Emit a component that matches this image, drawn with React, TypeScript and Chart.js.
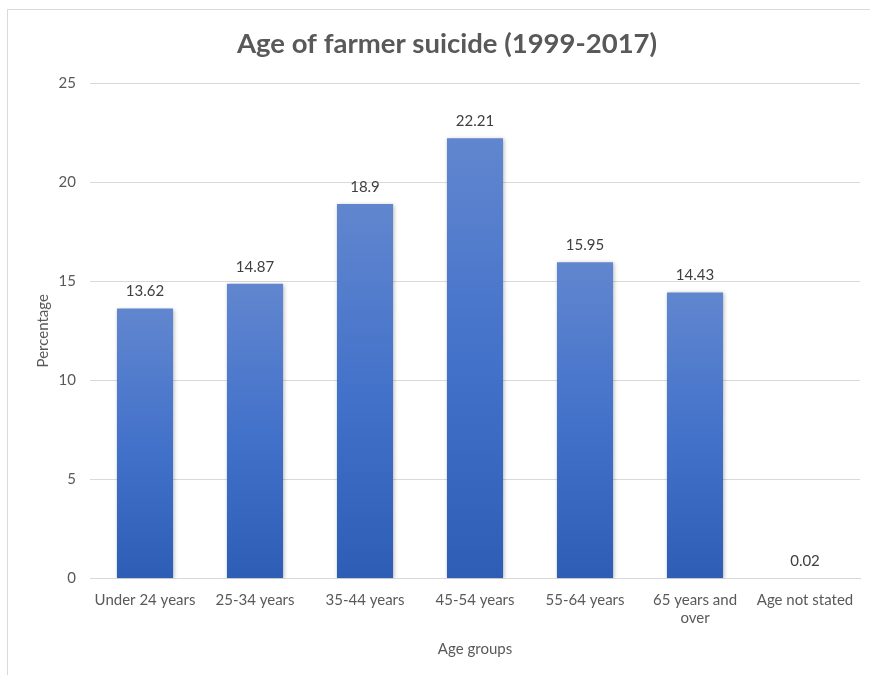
import React, { useEffect, useRef } from "react";
import { Chart, registerables } from "chart.js";

Chart.register(...registerables);

const categories: (string | string[])[] = [
  "Under 24 years",
  "25-34 years",
  "35-44 years",
  "45-54 years",
  "55-64 years",
  ["65 years and", "over"],
  "Age not stated",
];
const percentages: number[] = [13.62, 14.87, 18.9, 22.21, 15.95, 14.43, 0.02];
const valueLabels: string[] = ["13.62", "14.87", "18.9", "22.21", "15.95", "14.43", "0.02"];

const FONT = "Lato, 'Liberation Sans', sans-serif";

const frame = {
  id: "frame",
  beforeDraw(chart: any) {
    const ctx = chart.ctx;
    ctx.save();
    ctx.fillStyle = "#ffffff";
    ctx.fillRect(0, 0, chart.width, chart.height);
    ctx.strokeStyle = "#d9d9d9";
    ctx.lineWidth = 1;
    ctx.beginPath();
    ctx.moveTo(7.5, chart.height);
    ctx.lineTo(7.5, 9.5);
    ctx.lineTo(chart.width, 9.5);
    ctx.stroke();
    ctx.restore();
  },
};

const shadow = {
  id: "barShadow",
  beforeDatasetsDraw(chart: any) {
    const ctx = chart.ctx;
    ctx.save();
    ctx.shadowColor = "rgba(0,0,0,0.28)";
    ctx.shadowBlur = 4;
    ctx.shadowOffsetX = 1;
    ctx.shadowOffsetY = 1;
  },
  afterDatasetsDraw(chart: any) {
    chart.ctx.restore();
  },
};

const dataLabels = {
  id: "dataLabels",
  afterDatasetsDraw(chart: any) {
    const ctx = chart.ctx;
    const meta = chart.getDatasetMeta(0);
    ctx.save();
    ctx.fillStyle = "#404040";
    ctx.font = `15px ${FONT}`;
    ctx.textAlign = "center";
    ctx.textBaseline = "middle";
    meta.data.forEach((bar: any, i: number) => {
      ctx.fillText(valueLabels[i], bar.x, bar.y - 17);
    });
    ctx.restore();
  },
};

export default function App() {
  const ref = useRef<HTMLCanvasElement>(null);
  useEffect(() => {
    document.body.style.margin = "0";
    const canvas = ref.current!;
    const chart = new Chart(canvas, {
      type: "bar",
      data: {
        labels: categories,
        datasets: [
          {
            data: percentages,
            backgroundColor: (c: any) => {
              const ch = c.chart;
              const ys = ch.scales?.y;
              if (!ys || c.dataIndex === undefined) return "#4472C4";
              const v = percentages[c.dataIndex];
              const top = ys.getPixelForValue(v);
              const bottom = ys.getPixelForValue(0);
              if (!isFinite(top) || !isFinite(bottom) || bottom - top < 1) return "#4472C4";
              const g = ch.ctx.createLinearGradient(0, top, 0, bottom);
              g.addColorStop(0, "#6186CF");
              g.addColorStop(0.5, "#4372CA");
              g.addColorStop(1, "#2E5DB6");
              return g;
            },
            borderWidth: 0,
            categoryPercentage: 1,
            barPercentage: 0.51,
          },
        ],
      },
      options: {
        responsive: false,
        animation: false,
        events: [],
        layout: { padding: { left: 34, right: 10, top: 0, bottom: 17 } },
        plugins: {
          legend: { display: false },
          tooltip: { enabled: false },
          title: {
            display: true,
            text: "Age of farmer suicide (1999-2017)",
            color: "#595959",
            font: { family: FONT, size: 27.5, weight: "bold" },
            padding: { top: 28, bottom: 22 },
          },
        },
        scales: {
          x: {
            grid: { display: false, drawTicks: false },
            border: { color: "#d9d9d9" },
            ticks: {
              color: "#595959",
              font: { family: FONT, size: 15, lineHeight: 1.25 },
              padding: 12,
              maxRotation: 0,
              autoSkip: false,
            },
            title: {
              display: true,
              text: "Age groups",
              color: "#595959",
              font: { family: FONT, size: 15 },
              padding: { top: 0, bottom: 0 },
            },
          },
          y: {
            min: 0,
            max: 25,
            ticks: {
              stepSize: 5,
              color: "#595959",
              font: { family: FONT, size: 15 },
              padding: 14,
            },
            grid: { color: "#d9d9d9", drawTicks: false },
            border: { display: false },
            title: {
              display: true,
              text: "Percentage",
              color: "#595959",
              font: { family: FONT, size: 15 },
              padding: { top: 0, bottom: 12 },
            },
            afterFit: (s: any) => {
              s.width = 56;
            },
          },
        },
      },
      plugins: [frame, shadow, dataLabels],
    });
    return () => chart.destroy();
  }, []);
  return <canvas ref={ref} width={870} height={675} style={{ display: "block" }} />;
}
